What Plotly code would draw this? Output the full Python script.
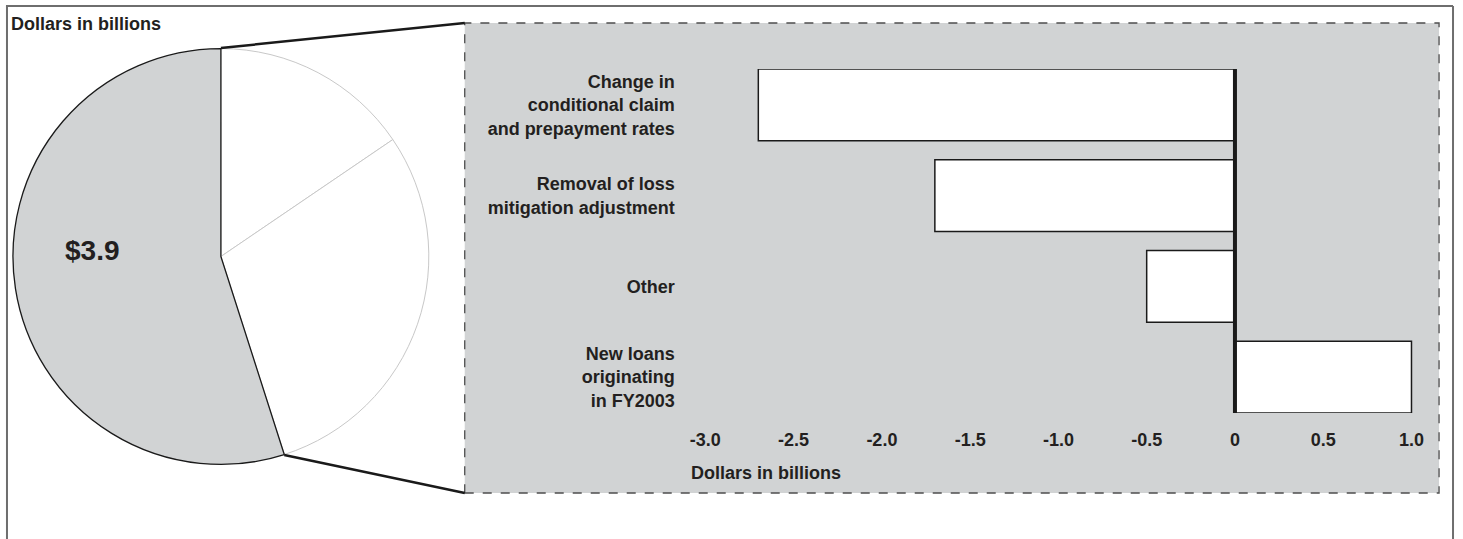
import math
import plotly.graph_objects as go

W, H = 1463, 539

# ---------------- data ----------------
pie_labels = ["Component A", "Component B", "Reestimate"]
pie_values = [1.1, 2.1, 3.9]
pie_colors = ["white", "white", "#d1d3d4"]

bar_categories = [
    "Change in<br>conditional claim<br>and prepayment rates",
    "Removal of loss<br>mitigation adjustment",
    "Other",
    "New loans<br>originating<br>in FY2003",
]
bar_values = [-2.7, -1.7, -0.5, 1.0]

x_tickvals = [-3.0, -2.5, -2.0, -1.5, -1.0, -0.5, 0, 0.5, 1.0]
x_ticktext = ["-3.0", "-2.5", "-2.0", "-1.5", "-1.0", "-0.5", "0", "0.5", "1.0"]

# ---------------- layout helpers ----------------
def fx(px):
    return px / W


def fy(py):
    return 1 - py / H


FONT = "Liberation Sans, Arial, Helvetica, sans-serif"
TXT = "#231f20"
GRAY = "#d1d3d4"

# pie geometry (pixels)
cx, cy, r = 221.5, 256.5, 208.5
# box geometry (pixels)
bx0, by0, bx1, by1 = 466, 23, 1443, 493

# bar plot area (pixels)
x_range = [-3.1, 1.05]
plot_l, plot_r = 689.6, 1424.2
plot_t, plot_b = 69, 413

fig = go.Figure()

fig.add_trace(go.Pie(
    labels=pie_labels,
    values=pie_values,
    sort=False,
    direction="clockwise",
    rotation=0,
    marker=dict(colors=pie_colors,
                line=dict(color=["#c8c8c8", "#c8c8c8", "#1a1a1a"], width=[1, 1, 1.3])),
    textinfo="none",
    showlegend=False,
    domain=dict(x=[fx(cx - r), fx(cx + r)], y=[fy(cy + r), fy(cy - r)]),
))

fig.add_trace(go.Bar(
    x=bar_values,
    y=bar_categories,
    orientation="h",
    width=0.79,
    marker=dict(color="white", line=dict(color="#1a1a1a", width=1.5)),
    showlegend=False,
))

# connector end points on pie computed from slice values
total = sum(pie_values)
ang_end = 2 * math.pi * (pie_values[0] + pie_values[1]) / total
top_pt = (cx, cy - r)
bot_pt = (cx + r * math.sin(ang_end), cy - r * math.cos(ang_end))

shapes = [
    dict(type="rect", xref="paper", yref="paper", x0=fx(bx0), y0=fy(by1), x1=fx(bx1), y1=fy(by0),
         fillcolor=GRAY, line=dict(color="#4d4d4d", width=1.3, dash="dash"), layer="below"),
    # outer frame (left, top, right)
    dict(type="line", xref="paper", yref="paper", x0=fx(7), y0=fy(6), x1=fx(7), y1=fy(560),
         line=dict(color="#6e6e6e", width=2)),
    dict(type="line", xref="paper", yref="paper", x0=fx(6), y0=fy(6), x1=fx(1457), y1=fy(6),
         line=dict(color="#6e6e6e", width=2)),
    dict(type="line", xref="paper", yref="paper", x0=fx(1457), y0=fy(6), x1=fx(1457), y1=fy(560),
         line=dict(color="#6e6e6e", width=2)),
    # connectors
    dict(type="line", xref="paper", yref="paper", x0=fx(top_pt[0]), y0=fy(top_pt[1]), x1=fx(bx0), y1=fy(by0),
         line=dict(color="#1a1a1a", width=2.5)),
    dict(type="line", xref="paper", yref="paper", x0=fx(bot_pt[0]), y0=fy(bot_pt[1]), x1=fx(bx0), y1=fy(by1),
         line=dict(color="#1a1a1a", width=2.5)),
    # thick zero baseline drawn above the bars
    dict(type="line", xref="x", yref="y domain", x0=0, x1=0, y0=0, y1=1,
         line=dict(color="#1a1a1a", width=4)),
]

annotations = [
    dict(text="Dollars in billions", xref="paper", yref="paper", x=fx(9), y=fy(24),
         xanchor="left", yanchor="middle", showarrow=False,
         font=dict(family=FONT, size=18, color=TXT, weight="bold")),
    dict(text=f"${pie_values[2]}", xref="paper", yref="paper", x=fx(93), y=fy(250),
         xanchor="center", yanchor="middle", showarrow=False,
         font=dict(family=FONT, size=28, color=TXT, weight="bold")),
    dict(text="Dollars in billions", xref="paper", yref="paper", x=fx(691), y=fy(473),
         xanchor="left", yanchor="middle", showarrow=False,
         font=dict(family=FONT, size=18, color=TXT, weight="bold")),
]

fig.update_layout(
    width=W, height=H,
    margin=dict(l=0, r=0, t=0, b=0),
    paper_bgcolor="white",
    plot_bgcolor="rgba(0,0,0,0)",
    shapes=shapes,
    annotations=annotations,
    bargap=0.21,
    xaxis=dict(
        domain=[fx(plot_l), fx(plot_r)],
        range=x_range,
        tickvals=x_tickvals,
        ticktext=x_ticktext,
        showgrid=False,
        showline=False,
        ticks="",
        zeroline=False,
        ticklabelstandoff=14,
        tickfont=dict(family=FONT, size=18, color=TXT, weight="bold"),
        fixedrange=True,
    ),
    yaxis=dict(
        domain=[fy(plot_b), fy(plot_t)],
        type="category",
        categoryorder="array",
        categoryarray=bar_categories[::-1],
        range=[-0.395, 3.395],
        showgrid=False,
        showline=False,
        zeroline=False,
        ticks="",
        ticklabelstandoff=12,
        tickfont=dict(family=FONT, size=18, color=TXT, weight="bold"),
        fixedrange=True,
    ),
)

fig.write_html("out.html", config={"displayModeBar": False},
               post_script="document.body.style.margin='0';document.body.style.overflow='hidden';")
